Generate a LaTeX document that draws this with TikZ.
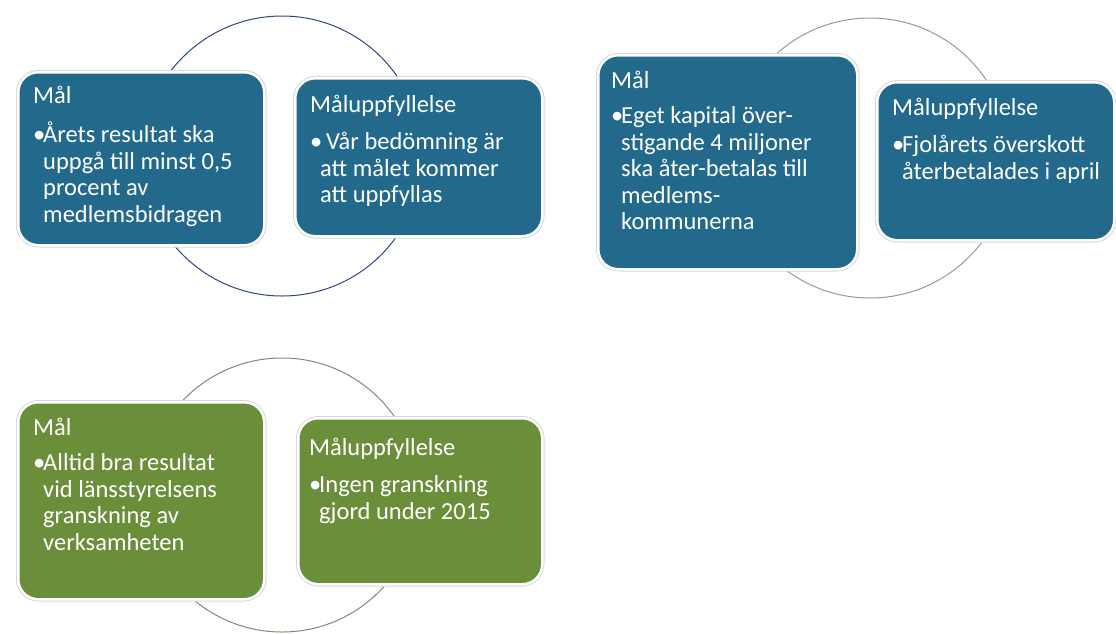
\documentclass[tikz,border=0pt]{standalone}
\usepackage{fontspec}
\setmainfont{Carlito}
\definecolor{bluefill}{HTML}{22698C}
\definecolor{greenfill}{HTML}{6A8E3A}
\definecolor{ringone}{HTML}{2E4585}
\definecolor{ringtwo}{HTML}{8D9AAE}
\definecolor{ringthree}{HTML}{858874}
\newcommand\bul{\makebox[10pt][l]{•}}
\tikzset{
 card/.style={rectangle, rounded corners=20pt, inner sep=0pt, anchor=north west,
   draw=white, line width=2.5pt, preaction={draw=black!15, line width=4.5pt}},
 bluecard/.style={card, fill=bluefill},
 greencard/.style={card, fill=greenfill},
 ring/.style={circle, line width=1pt, inner sep=0pt, minimum size=#1},
 txt/.style={anchor=base west, inner sep=0pt, text=white, font=\fontsize{24.5}{26.5}\selectfont}
}
\begin{document}
\begin{tikzpicture}[x=1pt,y=-1pt]
\useasboundingbox (0,0) rectangle (1116,633);
% rings
\node[ring=280pt, draw=ringone] (r1) at (282,156) {};
\node[ring=280pt, draw=ringtwo] (r2) at (870,158) {};
\node[ring=274pt, draw=ringthree] (r3) at (282,495) {};
% cards
\node[bluecard, minimum width=246pt, minimum height=173pt] (b1l) at (17,71) {};
\node[bluecard, minimum width=247pt, minimum height=158pt] (b1r) at (294,77) {};
\node[bluecard, minimum width=259pt, minimum height=214pt] (b2l) at (597,54) {};
\node[bluecard, minimum width=237pt, minimum height=158pt] (b2r) at (876,81) {};
\node[greencard, minimum width=246pt, minimum height=197pt] (g3l) at (17,401) {};
\node[greencard, minimum width=244pt, minimum height=166pt] (g3r) at (297,417) {};
% texts
\node[txt] (t1l) at (33,103) {\begin{tabular}[t]{@{}l@{}l@{}}\multicolumn{2}{@{}l@{}}{Mål}\\[11pt]
\bul&Årets resultat ska\\&uppgå till minst 0,5\\&procent av\\&medlemsbidragen\end{tabular}};
\node[txt] (t1r) at (310,112) {\begin{tabular}[t]{@{}l@{}l@{}}\multicolumn{2}{@{}l@{}}{Måluppfyllelse}\\[11pt]
\bul&\hspace{6pt}Vår bedömning är\\&att målet kommer\\&att uppfyllas\end{tabular}};
\node[txt] (t2l) at (611,88) {\begin{tabular}[t]{@{}l@{}l@{}}\multicolumn{2}{@{}l@{}}{Mål}\\[9pt]
\bul&Eget kapital över-\\&stigande 4 miljoner\\&ska åter-betalas till\\&medlems-\\&kommunerna\end{tabular}};
\node[txt] (t2r) at (892,115) {\begin{tabular}[t]{@{}l@{}l@{}}\multicolumn{2}{@{}l@{}}{Måluppfyllelse}\\[11pt]
\bul&Fjolårets överskott\\&återbetalades i april\end{tabular}};
\node[txt] (t3l) at (33,435) {\begin{tabular}[t]{@{}l@{}l@{}}\multicolumn{2}{@{}l@{}}{Mål}\\[9pt]
\bul&Alltid bra resultat\\&vid länsstyrelsens\\&granskning av\\&verksamheten\end{tabular}};
\node[txt] (t3r) at (309,455) {\begin{tabular}[t]{@{}l@{}l@{}}\multicolumn{2}{@{}l@{}}{Måluppfyllelse}\\[11pt]
\bul&Ingen granskning\\&gjord under 2015\end{tabular}};
\end{tikzpicture}
\end{document}
